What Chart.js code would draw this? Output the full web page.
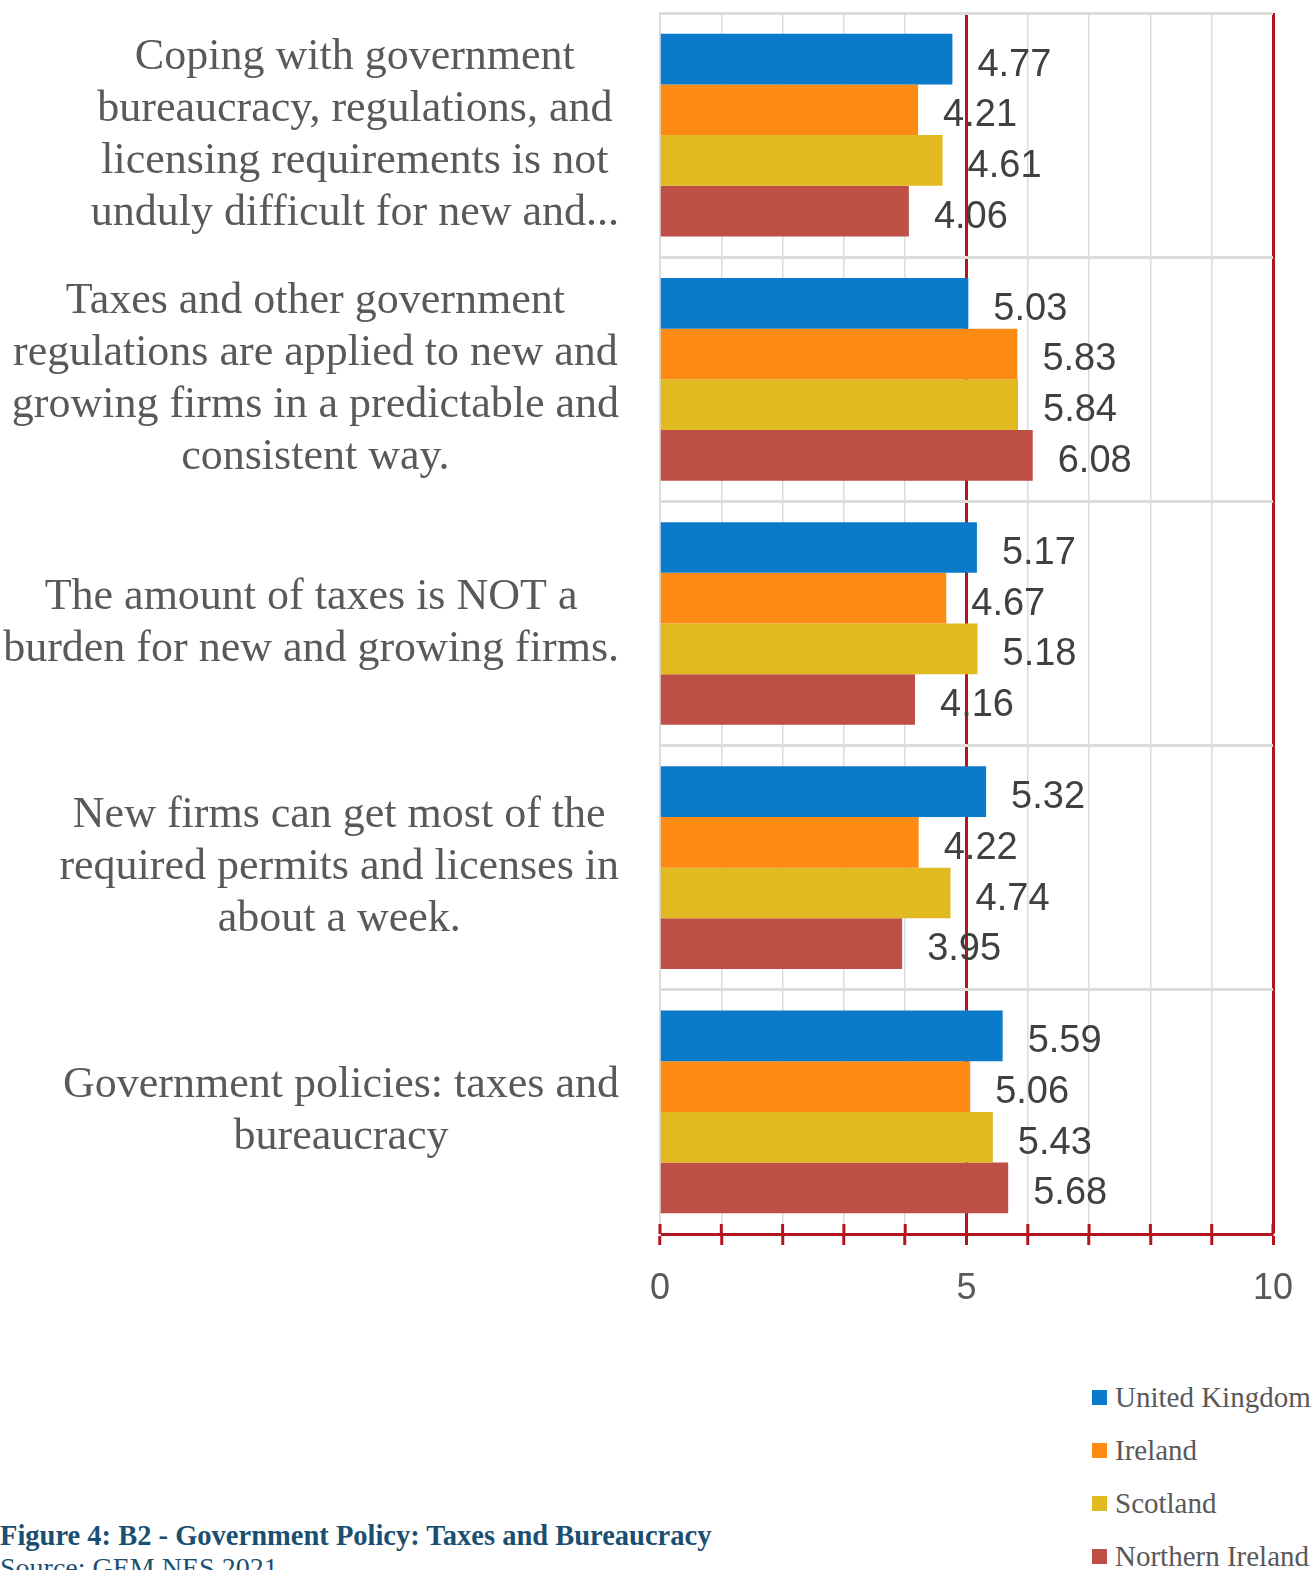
<!DOCTYPE html>
<html>
<head>
<meta charset="utf-8">
<title>Government Policy: Taxes and Bureaucracy</title>
<script src="https://cdn.jsdelivr.net/npm/chart.js@4.4.1/dist/chart.umd.min.js"></script>
<style>
  html, body { margin: 0; padding: 0; background: #fff; }
  body { width: 1311px; height: 1570px; position: relative; overflow: hidden; }
  #wrap { position: absolute; left: 0; top: 0; width: 1311px; height: 1330px; }
  #legend { position: absolute; left: 1092px; top: 1371px; margin: 0; padding: 0; list-style: none;
            font: 29px "Liberation Serif", serif; color: #595959; white-space: nowrap; }
  #legend li { height: 53px; display: flex; align-items: center; }
  #legend .box { width: 15px; height: 15px; margin-right: 8px; display: inline-block; }
  .caption { position: absolute; left: 0; margin: 0; font-family: "Liberation Serif", serif; color: #1b4f72; white-space: nowrap; }
  #title { top: 1520px; font-size: 28.5px; font-weight: bold; }
  #source { top: 1552px; font-size: 28px; }
</style>
</head>
<body>
<div id="wrap"><canvas id="chart" width="1311" height="1330"></canvas></div>
<ul id="legend"></ul>
<p class="caption" id="title">Figure 4: B2 - Government Policy: Taxes and Bureaucracy</p>
<p class="caption" id="source">Source: GEM NES 2021</p>

<script>
// --- data ---
const categories = [
  ["Coping with government", "bureaucracy, regulations, and", "licensing requirements is not", "unduly difficult for new and..."],
  ["Taxes and other government", "regulations are applied to new and", "growing firms in a predictable and", "consistent way."],
  ["The amount of taxes is NOT a", "burden for new and growing firms."],
  ["New firms can get most of the", "required permits and licenses in", "about a week."],
  ["Government policies: taxes and", "bureaucracy"]
];

const seriesNames = ["United Kingdom", "Ireland", "Scotland", "Northern Ireland"];
const ukValues       = [4.77, 5.03, 5.17, 5.32, 5.59];
const irelandValues  = [4.21, 5.83, 4.67, 4.22, 5.06];
const scotlandValues = [4.61, 5.84, 5.18, 4.74, 5.43];
const niValues       = [4.06, 6.08, 4.16, 3.95, 5.68];
const xTickLabels = [0, 5, 10];

const colors = ["#0a7bca", "#fd8b13", "#e0ba20", "#bd4f47"];
const axisRed = "#b3151d";
const gridGrey = "#dcdcdc";
const textGrey = "#595959";

const CAT_FONT = '44px "Liberation Serif", serif';
const CAT_LINE_H = 52;
const CAT_RIGHT = 619;
const VAL_FONT = '38px "Liberation Sans", sans-serif';

// category text blocks, value labels and the crossing tick marks
const overlayPlugin = {
  id: "overlay",
  afterDatasetsDraw(chart) {
    const ctx = chart.ctx;
    const x = chart.scales.x;
    const y = chart.scales.y;
    const area = chart.chartArea;

    ctx.save();
    // value labels right of each bar
    ctx.font = VAL_FONT;
    ctx.fillStyle = "#404040";
    ctx.textAlign = "left";
    ctx.textBaseline = "middle";
    chart.data.datasets.forEach((ds, di) => {
      chart.getDatasetMeta(di).data.forEach((bar, i) => {
        ctx.fillText(ds.data[i].toFixed(2), bar.x + 25, bar.y + 6);
      });
    });

    // short red marks above the axis line
    ctx.strokeStyle = axisRed;
    ctx.lineWidth = 3;
    x.ticks.forEach(t => {
      const px = x.getPixelForValue(t.value);
      ctx.beginPath();
      ctx.moveTo(px, area.bottom - 10);
      ctx.lineTo(px, area.bottom);
      ctx.stroke();
    });

    // category labels: lines centred within a right-aligned block
    ctx.font = CAT_FONT;
    ctx.fillStyle = textGrey;
    ctx.textAlign = "center";
    categories.forEach((lines, i) => {
      const yc = y.getPixelForValue(i);
      const maxW = Math.max(...lines.map(l => ctx.measureText(l).width));
      const cx = CAT_RIGHT - maxW / 2;
      const y0 = yc - (lines.length - 1) * CAT_LINE_H / 2;
      lines.forEach((l, k) => ctx.fillText(l, cx, y0 + k * CAT_LINE_H));
    });
    ctx.restore();
  }
};

const chart = new Chart(document.getElementById("chart"), {
  type: "bar",
  data: {
    labels: categories.map(c => c.join(" ")),
    datasets: [ukValues, irelandValues, scotlandValues, niValues].map((vals, i) => ({
      label: seriesNames[i],
      data: vals,
      backgroundColor: colors[i],
      borderWidth: 0,
      barPercentage: 1,
      categoryPercentage: 0.83
    }))
  },
  options: {
    indexAxis: "y",
    responsive: false,
    animation: false,
    layout: { padding: { top: 13, right: 38, bottom: 0, left: 0 } },
    plugins: {
      legend: { display: false },
      tooltip: { enabled: false }
    },
    scales: {
      x: {
        min: 0,
        max: 10,
        afterFit: s => {
          s.height = 96;
          s.paddingLeft = 0;
          s.paddingRight = 0;
        },
        border: { display: true, color: axisRed, width: 3 },
        grid: {
          color: c => (c.tick && (c.tick.value === 5 || c.tick.value === 10)) ? axisRed : gridGrey,
          lineWidth: c => (c.tick && (c.tick.value === 5 || c.tick.value === 10)) ? 3 : 1.5,
          drawTicks: true,
          tickLength: 11,
          tickColor: axisRed,
          tickWidth: 3
        },
        ticks: {
          stepSize: 1,
          autoSkip: false,
          maxRotation: 0,
          padding: 22,
          color: textGrey,
          font: { family: '"Liberation Sans", sans-serif', size: 36 },
          callback: v => xTickLabels.includes(v) ? String(v) : ""
        }
      },
      y: {
        afterFit: s => { s.width = 660; },
        border: { display: true, color: gridGrey, width: 2 },
        grid: { offset: true, color: gridGrey, lineWidth: 3, drawTicks: false },
        ticks: { display: false }
      }
    }
  },
  plugins: [overlayPlugin]
});

// legend list, stacked vertically
const legendEl = document.getElementById("legend");
chart.data.datasets.forEach(ds => {
  const li = document.createElement("li");
  li.innerHTML = '<span class="box" style="background:' + ds.backgroundColor + '"></span>' + ds.label;
  legendEl.appendChild(li);
});
</script>
</body>
</html>
